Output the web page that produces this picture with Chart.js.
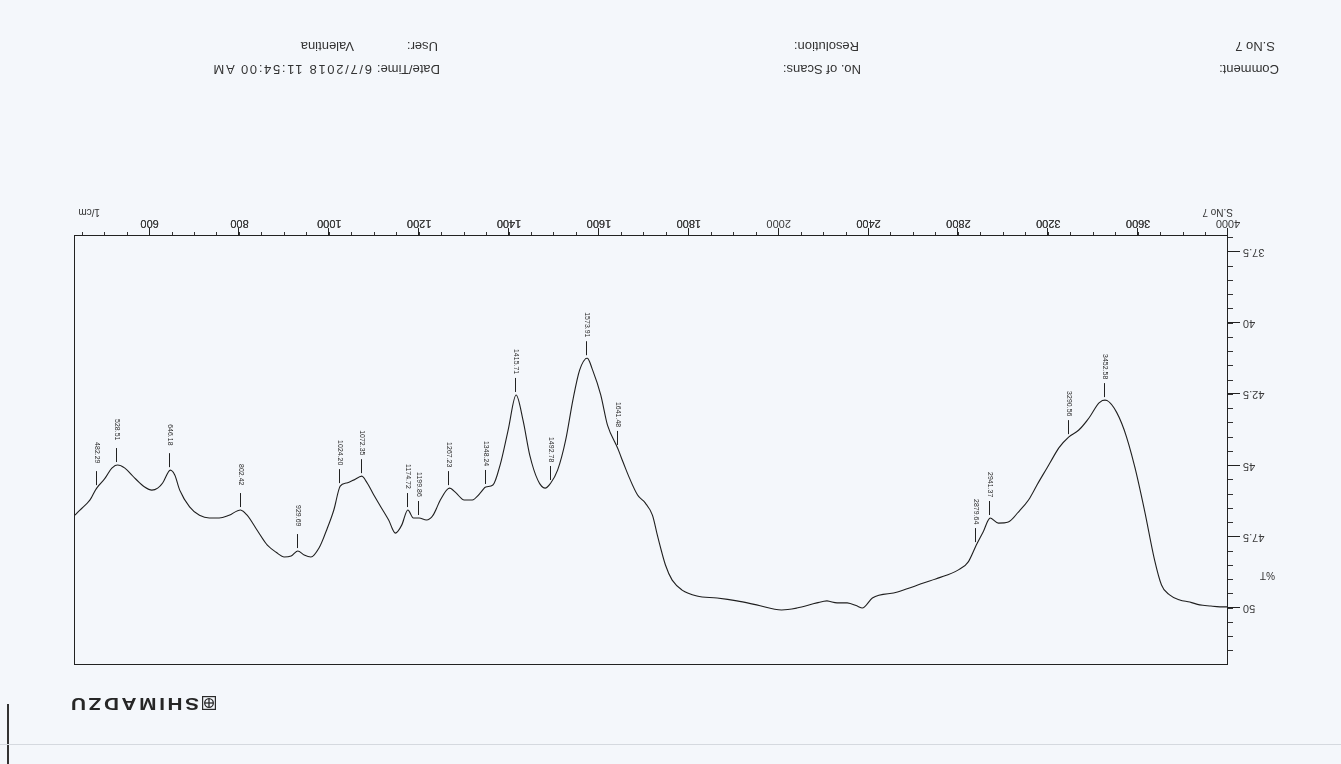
<!DOCTYPE html>
<html>
<head>
<meta charset="utf-8">
<title>FTIR spectrum - S.No 7</title>
<script src="https://cdn.jsdelivr.net/npm/chart.js@4.4.1/dist/chart.umd.min.js"></script>
<style>
  html, body { margin: 0; padding: 0; background: #f4f7fb; overflow: hidden; }
  /* the printed sheet is photographed upside down */
  #sheet {
    position: absolute; left: 0; top: 0; width: 1341px; height: 764px;
    background: #f4f7fb; overflow: hidden;
    transform: rotate(180deg); transform-origin: 50% 50%;
    font-family: "Liberation Sans", Arial, sans-serif; color: #2b2b2b;
  }
  #sheet canvas { position: absolute; left: 0; top: 0; }
  .t { position: absolute; white-space: nowrap; line-height: 1; }
  .hdr { font-size: 13px; color: #333; }
  .small { font-size: 10px; color: #333; }
  .logo { position: absolute; left: 1125px; top: 52px; height: 18px; }
  .logo span {
    position: absolute; left: 17px; top: 0px; font-weight: bold; font-size: 16px;
    letter-spacing: 2px; color: #262626; transform: scaleX(1.3); transform-origin: 0 50%;
  }
  .edge-v { position: absolute; left: 1332px; top: 0; width: 2px; height: 60px; background: #333; }
  .edge-h { position: absolute; left: 0; top: 19px; width: 1341px; height: 1px; background: #d5d9df; }
</style>
</head>
<body>
<div id="sheet">
  <canvas id="ir" width="1341" height="764"></canvas>

  <div class="logo">
    <svg width="14" height="14" viewBox="0 0 14 14" style="position:absolute;left:0;top:2px">
      <rect x="0.5" y="0.5" width="13" height="13" fill="none" stroke="#2a2a2a" stroke-width="1.4"/>
      <circle cx="7" cy="7" r="4.3" fill="none" stroke="#2a2a2a" stroke-width="1.3"/>
      <line x1="7" y1="2.7" x2="7" y2="11.3" stroke="#2a2a2a" stroke-width="1.3"/>
      <line x1="2.7" y1="7" x2="11.3" y2="7" stroke="#2a2a2a" stroke-width="1.3"/>
    </svg>
    <span>SHIMADZU</span>
  </div>

  <div class="t small" style="left:66px; top:184px;">%T</div>
  <div class="t small" style="left:108px; top:547px;">S.No 7</div>
  <div class="t small" style="left:1241px; top:547px;">1/cm</div>

  <div class="t hdr" style="left:62px;  top:688px;">Comment:</div>
  <div class="t hdr" style="left:66px;  top:711px;">S.No 7</div>
  <div class="t hdr" style="left:480px; top:688px;">No. of Scans:</div>
  <div class="t hdr" style="left:482px; top:711px;">Resolution:</div>
  <div class="t hdr" style="left:901px; top:688px;">Date/Time:</div>
  <div class="t hdr" style="left:969px; top:688px; letter-spacing:1.7px;">6/7/2018 11:54:00 AM</div>
  <div class="t hdr" style="left:903px; top:711px;">User:</div>
  <div class="t hdr" style="left:987px; top:711px;">Valentina</div>

  <div class="edge-v"></div>
  <div class="edge-h"></div>
</div>

<script>
// Spectrum: wavenumber (1/cm) and transmittance (%T)
const wavenumbers = [
  4000, 3964, 3919, 3874, 3830, 3785, 3740, 3704, 3673, 3628,
  3583, 3538, 3493, 3452.58, 3426, 3381, 3336, 3290.56, 3247, 3202,
  3157, 3112, 3067, 3022, 2978, 2941.37, 2910, 2879.64, 2843, 2798,
  2709, 2619, 2529, 2417, 2372, 2350, 2305, 2260, 2215, 2170,
  2081, 2013, 1951, 1907, 1863, 1818, 1785, 1763, 1748, 1730,
  1719, 1703, 1686, 1668, 1652, 1641.48, 1619, 1604, 1586, 1573.91,
  1557, 1542, 1526, 1508, 1492.78, 1480, 1464, 1446, 1431, 1415.71,
  1398, 1380, 1364, 1348.24, 1336, 1318, 1300, 1282, 1267.23, 1247,
  1231, 1216, 1199.86, 1187, 1174.72, 1161, 1147, 1132, 1116, 1099,
  1083, 1072.35, 1054, 1039, 1024.2, 1010, 994, 977, 959, 944,
  929.69, 915, 899, 884, 862, 839, 817, 802.42, 777, 755,
  733, 711, 689, 667, 656, 646.18, 629, 618, 605, 589,
  567, 545, 528.51, 516, 501, 482.29, 467, 445, 434
];
const transmittance = [
  49.96, 49.96, 49.93, 49.89, 49.79, 49.72, 49.54, 49.19, 48.31, 46.56,
  44.98, 43.75, 42.98, 42.70, 42.80, 43.33, 43.75, 44.00, 44.38, 44.98,
  45.58, 46.21, 46.63, 46.98, 47.02, 46.84, 47.33, 47.79, 48.39, 48.67,
  48.95, 49.19, 49.44, 49.65, 50.00, 49.93, 49.82, 49.82, 49.75, 49.82,
  50.00, 50.07, 49.89, 49.75, 49.65, 49.58, 49.37, 49.02, 48.49, 47.44,
  46.74, 46.31, 46.03, 45.44, 44.81, 44.38, 43.58, 42.52, 41.65, 41.23,
  41.65, 42.70, 44.10, 45.16, 45.61, 45.79, 45.51, 44.63, 43.40, 42.52,
  43.75, 44.98, 45.68, 45.75, 45.96, 46.21, 46.21, 45.96, 45.79, 46.21,
  46.74, 46.91, 46.84, 46.84, 46.56, 47.09, 47.37, 46.91, 46.49, 46.03,
  45.58, 45.37, 45.51, 45.61, 45.72, 46.56, 47.26, 47.89, 48.21, 48.14,
  48.00, 48.17, 48.21, 48.07, 47.79, 47.26, 46.74, 46.56, 46.74, 46.84,
  46.84, 46.74, 46.45, 45.86, 45.33, 45.16, 45.61, 45.79, 45.86, 45.75,
  45.44, 45.09, 44.98, 45.09, 45.44, 45.79, 46.21, 46.56, 46.74
];

// Picked peaks (1/cm)
const peakWavenumbers = [
  3452.58, 3290.56, 2941.37, 2879.64, 1641.48, 1573.91, 1492.78, 1415.71,
  1348.24, 1267.23, 1199.86, 1174.72, 1072.35, 1024.2, 929.69, 802.42,
  646.18, 528.51, 482.29
];

// Axis ticks and labels
const xTickValues = [4000, 3600, 3200, 2800, 2400, 2000, 1800, 1600, 1400, 1200, 1000, 800, 600];
const xTickLabels = ['4000', '3600', '3200', '2800', '2400', '2000', '1800', '1600', '1400', '1200', '1000', '800', '600'];
const yTickValues = [37.5, 40, 42.5, 45, 47.5, 50];
const yTickLabels = ['37.5', '40', '42.5', '45', '47.5', '50'];

const X_MAX = 4000, X_MIN = 434, BREAK_AT = 2000, STRETCH = 2;
const Y_MIN = 36.94, Y_MAX = 52.0;

// Minor tick marks between the labelled ones
const xMinor = [];
for (let v = 3900; v > BREAK_AT; v -= 100) xMinor.push(v);
for (let v = 1950; v >= 450; v -= 50) xMinor.push(v);
const yMinor = [];
for (let v = 37; v <= 52.0001; v += 0.5) yMinor.push(Math.round(v * 10) / 10);

// Wavenumber axis: the region below 2000 1/cm is drawn at twice the scale
class WavenumberScale extends Chart.LinearScale {
  _offsetOf(v) {
    return v >= BREAK_AT ? this.max - v : (this.max - BREAK_AT) + (BREAK_AT - v) * STRETCH;
  }
  getPixelForValue(value) {
    const span = this._offsetOf(this.min);
    return this.getPixelForDecimal(this._offsetOf(value) / span);
  }
  getValueForPixel(pixel) {
    const d = this.getDecimalForPixel(pixel) * this._offsetOf(this.min);
    const upper = this.max - BREAK_AT;
    return d <= upper ? this.max - d : BREAK_AT - (d - upper) / STRETCH;
  }
}
WavenumberScale.id = 'wavenumber';
WavenumberScale.defaults = Chart.LinearScale.defaults;
Chart.register(WavenumberScale);

const labelFont = { family: '"Liberation Sans", Arial, sans-serif', size: 11 };

// Long major ticks, frame and peak annotations
const framePlugin = {
  id: 'spectrumFrame',
  afterDraw(chart) {
    const { ctx, chartArea: a, scales: { x, y } } = chart;
    ctx.save();
    ctx.strokeStyle = '#222';
    ctx.lineWidth = 1;
    ctx.strokeRect(Math.round(a.left) + 0.5, Math.round(a.top) + 0.5,
                   Math.round(a.right - a.left), Math.round(a.bottom - a.top));
    ctx.beginPath();
    xTickValues.forEach(v => {
      const p = Math.round(x.getPixelForValue(v)) + 0.5;
      ctx.moveTo(p, a.bottom); ctx.lineTo(p, a.bottom + 8);
    });
    yTickValues.forEach(v => {
      const p = Math.round(y.getPixelForValue(v)) + 0.5;
      ctx.moveTo(a.left, p); ctx.lineTo(a.left - 12, p);
    });
    ctx.stroke();

    ctx.fillStyle = '#2a2a2a';
    ctx.font = '7px "Liberation Sans", Arial, sans-serif';
    ctx.textAlign = 'left';
    ctx.textBaseline = 'middle';
    peakWavenumbers.forEach(w => {
      const i = wavenumbers.indexOf(w);
      const px = Math.round(x.getPixelForValue(w)) + 0.5;
      const py = y.getPixelForValue(transmittance[i]);
      ctx.beginPath();
      ctx.moveTo(px, py + 3); ctx.lineTo(px, py + 17);
      ctx.stroke();
      ctx.save();
      ctx.translate(px, py + 46);
      ctx.rotate(-Math.PI / 2);
      ctx.fillText(w.toFixed(2), 0, 0);
      ctx.restore();
    });
    ctx.restore();
  }
};

new Chart(document.getElementById('ir'), {
  type: 'line',
  data: {
    datasets: [{
      label: 'S.No 7',
      data: wavenumbers.map((w, i) => ({ x: w, y: transmittance[i] })),
      borderColor: '#1f1f1f',
      borderWidth: 1.1,
      pointRadius: 0,
      fill: false,
      cubicInterpolationMode: 'monotone'
    }]
  },
  options: {
    responsive: false,
    animation: false,
    devicePixelRatio: 1,
    layout: { padding: { left: 53, right: 75, top: 99, bottom: 206 } },
    plugins: { legend: { display: false }, tooltip: { enabled: false } },
    scales: {
      x: {
        type: 'wavenumber',
        min: X_MIN, max: X_MAX, bounds: 'data', position: 'bottom',
        afterBuildTicks: s => { s.ticks = xTickValues.concat(xMinor).map(v => ({ value: v })); },
        afterFit: s => { s.height = 30; },
        grid: { drawOnChartArea: false, drawTicks: true, tickLength: 4, color: '#333', lineWidth: 1 },
        border: { display: true, color: '#222', width: 1 },
        ticks: {
          autoSkip: false, maxRotation: 0, minRotation: 0, padding: 2,
          color: '#3a3a3a', font: labelFont,
          callback: v => { const k = xTickValues.indexOf(v); return k >= 0 ? xTickLabels[k] : ''; }
        }
      },
      y: {
        type: 'linear',
        min: Y_MIN, max: Y_MAX, bounds: 'data', position: 'left',
        afterBuildTicks: s => { s.ticks = yMinor.filter(v => v > Y_MIN && v < Y_MAX).map(v => ({ value: v })); },
        afterFit: s => { s.width = 60; },
        grid: { drawOnChartArea: false, drawTicks: true, tickLength: 5, color: '#333', lineWidth: 1 },
        border: { display: true, color: '#222', width: 1 },
        ticks: {
          autoSkip: false, padding: 10, color: '#3a3a3a', font: labelFont,
          callback: v => { const k = yTickValues.indexOf(v); return k >= 0 ? yTickLabels[k] : ''; }
        }
      }
    }
  },
  plugins: [framePlugin]
});
</script>
</body>
</html>
